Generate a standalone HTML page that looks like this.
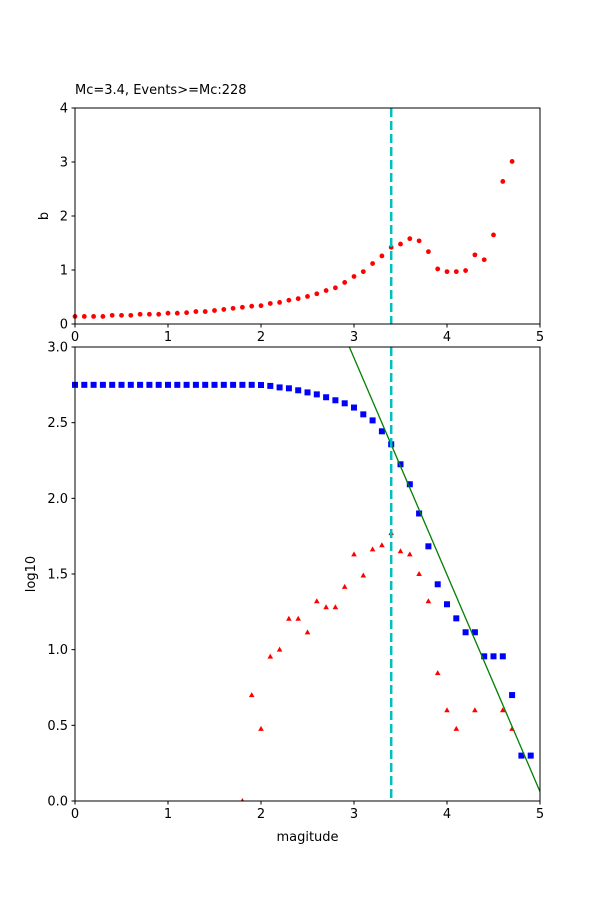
<!DOCTYPE html>
<html><head><meta charset="utf-8"><style>
html,body{margin:0;padding:0;background:#fff;}
svg text{font-family:"DejaVu Sans","Liberation Sans",sans-serif;font-size:13px;fill:#000;}
</style></head><body>
<svg id="s" width="600" height="900" xmlns="http://www.w3.org/2000/svg"></svg>
<script>
const s=document.getElementById('s');let h='';
const X=v=>75+v*93;
const YT=v=>324-v*54;
const YB=v=>801-v*151.33;
h+='<rect width="600" height="900" fill="#fff"/>';
// title
h+='<text x="75" y="94">Mc=3.4, Events&gt;=Mc:228</text>';
// top data
const b=[0.14,0.14,0.14,0.14,0.16,0.16,0.16,0.18,0.18,0.18,0.2,0.2,0.21,0.23,0.23,0.25,0.27,0.29,0.31,0.33,0.34,0.38,0.40,0.44,0.47,0.51,0.56,0.62,0.67,0.77,0.88,0.97,1.12,1.26,1.42,1.48,1.58,1.54,1.34,1.02,0.97,0.97,0.99,1.28,1.19,1.65,2.64,3.01];
b.forEach((v,i)=>{h+=`<circle cx="${X(i/10)}" cy="${YT(v)}" r="2.4" fill="#f00"/>`;});
// bottom data
const blue=[];for(let i=0;i<20;i++)blue.push([i/10,2.75]);
[[2.0,2.749],[2.1,2.743],[2.2,2.733],[2.3,2.727],[2.4,2.714],[2.5,2.70],[2.6,2.687],[2.7,2.668],[2.8,2.648],[2.9,2.628],[3.0,2.60],[3.1,2.555],[3.2,2.515],[3.3,2.443],[3.4,2.357],[3.5,2.225],[3.6,2.093],[3.7,1.90],[3.8,1.683],[3.9,1.432],[4.0,1.30],[4.1,1.207],[4.2,1.115],[4.3,1.115],[4.4,0.956],[4.5,0.956],[4.6,0.956],[4.7,0.70],[4.8,0.30],[4.9,0.30]].forEach(p=>blue.push(p));
const red=[[1.8,0],[1.9,0.70],[2.0,0.477],[2.1,0.954],[2.2,1.0],[2.3,1.204],[2.4,1.204],[2.5,1.114],[2.6,1.32],[2.7,1.28],[2.8,1.28],[2.9,1.415],[3.0,1.63],[3.1,1.49],[3.2,1.663],[3.3,1.69],[3.4,1.77],[3.5,1.65],[3.6,1.63],[3.7,1.5],[3.8,1.32],[3.9,0.845],[4.0,0.60],[4.1,0.477],[4.3,0.6],[4.6,0.6],[4.7,0.477]];
red.forEach(p=>{const x=X(p[0]),y=YB(p[1]);h+=`<polygon points="${x},${y-3} ${x-2.8},${y+2} ${x+2.8},${y+2}" fill="#f00"/>`;});
blue.forEach(p=>{const x=X(p[0]),y=YB(p[1]);h+=`<rect x="${x-3}" y="${y-3}" width="6" height="6" fill="#00f"/>`;});
// green line
h+=`<line x1="${X(2.95)}" y1="${YB(3)}" x2="${X(5)}" y2="${YB(0.062)}" stroke="#008000" stroke-width="1.3"/>`;
// mask outside bottom axes
h+=`<rect x="0" y="801" width="600" height="99" fill="#fff"/>`;
// cyan dashed
h+=`<line x1="${X(3.4)}" y1="108" x2="${X(3.4)}" y2="324" stroke="#00bfbf" stroke-width="2.5" stroke-dasharray="9,4"/>`;
h+=`<line x1="${X(3.4)}" y1="347" x2="${X(3.4)}" y2="801" stroke="#00bfbf" stroke-width="2.5" stroke-dasharray="9,4"/>`;
// axes frames
h+='<rect x="75" y="108" width="465" height="216" fill="none" stroke="#000" stroke-width="1"/>';
h+='<rect x="75" y="347" width="465" height="454" fill="none" stroke="#000" stroke-width="1"/>';
// ticks top
for(let k=0;k<=5;k++){const x=X(k);h+=`<line x1="${x}" y1="324" x2="${x}" y2="327.5" stroke="#000"/><text x="${x}" y="341" text-anchor="middle">${k}</text>`;}
for(let k=0;k<=4;k++){const y=YT(k);h+=`<line x1="71.5" y1="${y}" x2="75" y2="${y}" stroke="#000"/><text x="68" y="${y+4.5}" text-anchor="end">${k}</text>`;}
// ticks bottom
for(let k=0;k<=5;k++){const x=X(k);h+=`<line x1="${x}" y1="801" x2="${x}" y2="804.5" stroke="#000"/><text x="${x}" y="818" text-anchor="middle">${k}</text>`;}
['0.0','0.5','1.0','1.5','2.0','2.5','3.0'].forEach((t,i)=>{const y=YB(i*0.5);h+=`<line x1="71.5" y1="${y}" x2="75" y2="${y}" stroke="#000"/><text x="68" y="${y+4.5}" text-anchor="end">${t}</text>`;});
h+='<text x="48" y="216" text-anchor="middle" transform="rotate(-90 48 216)">b</text>';
h+='<text x="35" y="574" text-anchor="middle" transform="rotate(-90 35 574)">log10</text>';
h+='<text x="307.5" y="841" text-anchor="middle">magitude</text>';
s.innerHTML=h;
</script>
</body></html>
